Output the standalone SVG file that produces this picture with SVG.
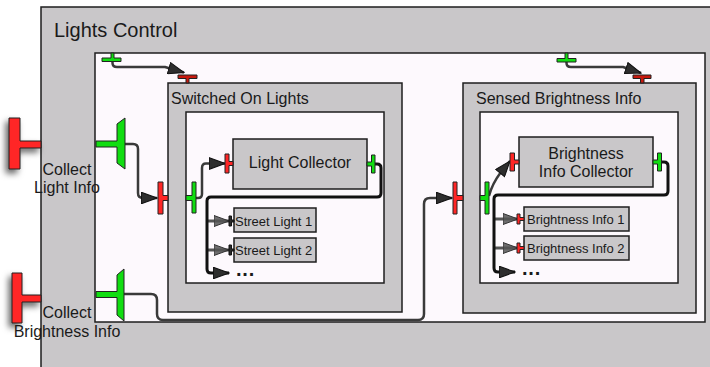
<svg xmlns="http://www.w3.org/2000/svg" width="710" height="367" viewBox="0 0 710 367">
<defs>
<style>
text{font-family:"Liberation Sans",Arial,sans-serif;fill:#1a1a1a}
.grey{fill:#c9c7c9;stroke:#1e1e1e;stroke-width:1.5}
.white{fill:#fdf9fd;stroke:#1e1e1e;stroke-width:1.5}
.box{fill:#c9c7c9;stroke:#1e1e1e;stroke-width:1.5}
.red{fill:#ff2626;stroke:#222;stroke-width:1}
.dred{fill:#c8190e;stroke:#222;stroke-width:1}
.green{fill:#11dd11;stroke:#222;stroke-width:1}
.dark{fill:#2a2a2a;stroke:#111;stroke-width:1}
.con{fill:none;stroke:#3a3a3a;stroke-width:2.5;stroke-linejoin:round}
.thick{fill:none;stroke:#111;stroke-width:3;stroke-linejoin:round}
.br{fill:none;stroke:#555;stroke-width:3}
.t16{font-size:16px}
.t13{font-size:13px}
.mid{text-anchor:middle}
.dots{font-size:20px;font-weight:bold;letter-spacing:0.8px}
</style>
<marker id="ah" viewBox="0 0 16 12" refX="15.5" refY="6" markerWidth="17" markerHeight="12.5" markerUnits="userSpaceOnUse" orient="auto"><path d="M0.5,0.5 L15.5,6 L0.5,11.5 Z" fill="#2e2e2e" stroke="#111" stroke-width="1"/></marker>
<marker id="ahg" viewBox="0 0 16 12" refX="15.5" refY="6" markerWidth="16" markerHeight="12" markerUnits="userSpaceOnUse" orient="auto"><path d="M0.5,0.5 L15.5,6 L0.5,11.5 Z" fill="#555" fill-opacity="0.85" stroke="#333" stroke-width="1"/></marker>
<filter id="sh" x="-80%" y="-50%" width="260%" height="200%"><feDropShadow dx="-3" dy="4" stdDeviation="3" flood-color="#000" flood-opacity="0.6"/></filter>
</defs>

<g id="lights-control">
<rect class="grey" x="41" y="7" width="700" height="400"/>
<text x="54" y="37" style="font-size:20px">Lights Control</text>
<rect class="white" x="95" y="53" width="610" height="269"/>
</g>

<g id="switched-on-lights">
<rect class="grey" x="168" y="83" width="234" height="229"/>
<text class="t16" x="171" y="104">Switched On Lights</text>
<rect class="white" x="186" y="112" width="198" height="171"/>
</g>

<g id="sensed-brightness-info">
<rect class="grey" x="463" y="83" width="233" height="230"/>
<text class="t16" x="476" y="104">Sensed Brightness Info</text>
<rect class="white" x="480" y="112" width="198" height="171"/>
</g>

<g id="light-collector">
<rect class="box" x="233" y="139" width="134" height="50"/>
<text class="t16 mid" x="300" y="168">Light Collector</text>
</g>

<g id="street-light-1">
<rect class="box" x="234" y="208" width="82" height="24"/>
<text class="t13" x="235" y="226">Street Light 1</text>
</g>

<g id="street-light-2">
<rect class="box" x="234" y="238" width="82" height="24"/>
<text class="t13" x="235" y="255">Street Light 2</text>
</g>

<g id="brightness-info-collector">
<rect class="box" x="519" y="137" width="134" height="50"/>
<text class="t16 mid" x="586" y="159">Brightness</text>
<text class="t16 mid" x="586" y="177">Info Collector</text>
</g>

<g id="brightness-info-1">
<rect class="box" x="524" y="207" width="105" height="24"/>
<text class="t13" x="527" y="224">Brightness Info 1</text>
</g>

<g id="brightness-info-2">
<rect class="box" x="524" y="236" width="105" height="24"/>
<text class="t13" x="527" y="253">Brightness Info 2</text>
</g>

<g id="more-lights"><text class="dots" x="236" y="276">...</text></g>
<g id="more-brightness"><text class="dots" x="522" y="275">...</text></g>

<g id="connectors">
<path class="con" d="M112.5,61.5 V63 Q112.5,67 117,67 H165 L184,72.5" marker-end="url(#ah)"/>
<path class="con" d="M566.5,62 V63 Q566.5,67 571,67 H623 L641,73" marker-end="url(#ah)"/>
<path class="con" d="M125,144 H133 Q138,144 138,149 V193 Q138,198 143,198 H157" marker-end="url(#ah)"/>
<path class="con" d="M124,294 H151 Q157,294 157,300 V314 Q157,320 163,320 H418 Q424,320 424,314 V204 Q424,198 430,198 H452" marker-end="url(#ah)"/>
<path class="con" d="M196,198 H198 Q202,198 202,194 V168 Q202,163.5 206,163.5 H225" marker-end="url(#ah)"/>
<path class="con" d="M489,196 Q492,184 501,172 L510,161" marker-end="url(#ah)"/>
<path class="br" d="M207,221 H229" marker-end="url(#ahg)"/>
<path class="br" d="M207,250 H229" marker-end="url(#ahg)"/>
<path class="thick" d="M375,164 H377 Q381,164 381,168 V193 Q381,197 377,197 H211 Q207,197 207,201 V269 Q207,273 211,273 H229" marker-end="url(#ah)"/>
<path class="br" d="M494,219 H518" marker-end="url(#ahg)"/>
<path class="br" d="M494,248 H518" marker-end="url(#ahg)"/>
<path class="thick" d="M662,162 H664 Q668,162 668,166 V191 Q668,195 664,195 H498 Q494,195 494,199 V268 Q494,272 498,272 H515" marker-end="url(#ah)"/>
</g>

<g id="ports">
<path class="red" filter="url(#sh)" d="M9,118 H20 V141 H41 V148 H20 V169 H9 Z"/>
<path class="red" filter="url(#sh)" d="M12,273 H22 V295 H41 V302 H22 V323 H12 Z"/>
<path class="green" d="M96,141 H117 V124 L125,118 V169 L117,163 V147 H96 Z"/>
<path class="green" d="M96,291.5 H117 V275 L124,269 V321 L117,315 V297.5 H96 Z"/>
<path class="green" d="M111,53 H114 V58 H121 V61.5 H102 V58 H111 Z"/>
<path class="dred" d="M178,75 H197 V78.5 H189 V83 H186 V78.5 H178 Z"/>
<path class="green" d="M565,53 H568 V58.5 H576 V62 H557 V58.5 H565 Z"/>
<path class="dred" d="M633,75 H651 V78.5 H644 V83 H640.5 V78.5 H633 Z"/>
<path class="red" d="M158,182 H163 V195.5 H168 V200.5 H163 V214 H158 Z"/>
<path class="green" d="M186,195.5 H192 V182 H196 V213 H192 V200.5 H186 Z"/>
<path class="red" d="M225,154 H229 V161.5 H233 V165.5 H229 V173 H225 Z"/>
<path class="green" d="M367,162 H371.5 V155 H375 V173 H371.5 V166 H367 Z"/>
<path class="dark" d="M229,216 H231.5 V220 H234 V222 H231.5 V226 H229 Z"/>
<path class="dark" d="M229,245 H231.5 V249 H234 V251 H231.5 V255 H229 Z"/>
<path class="red" d="M453,182 H457 V195.5 H463 V200.5 H457 V214 H453 Z"/>
<path class="green" d="M480,195.5 H485 V182 H489 V214 H485 V200.5 H480 Z"/>
<path class="red" d="M510,153 H514.5 V160 H519 V164 H514.5 V171 H510 Z"/>
<path class="green" d="M653,160 H657.5 V153 H661.5 V171 H657.5 V164 H653 Z"/>
<path class="red" d="M517,214 H520 V217.5 H524 V220.5 H520 V224 H517 Z"/>
<path class="red" d="M517,243 H520 V246.5 H524 V249.5 H520 V253 H517 Z"/>
</g>

<g id="port-labels">
<text class="t16 mid" x="67" y="175">Collect</text>
<text class="t16 mid" x="67" y="193">Light Info</text>
<text class="t16 mid" x="67" y="318">Collect</text>
<text class="t16 mid" x="67" y="337">Brightness Info</text>
</g>
</svg>
